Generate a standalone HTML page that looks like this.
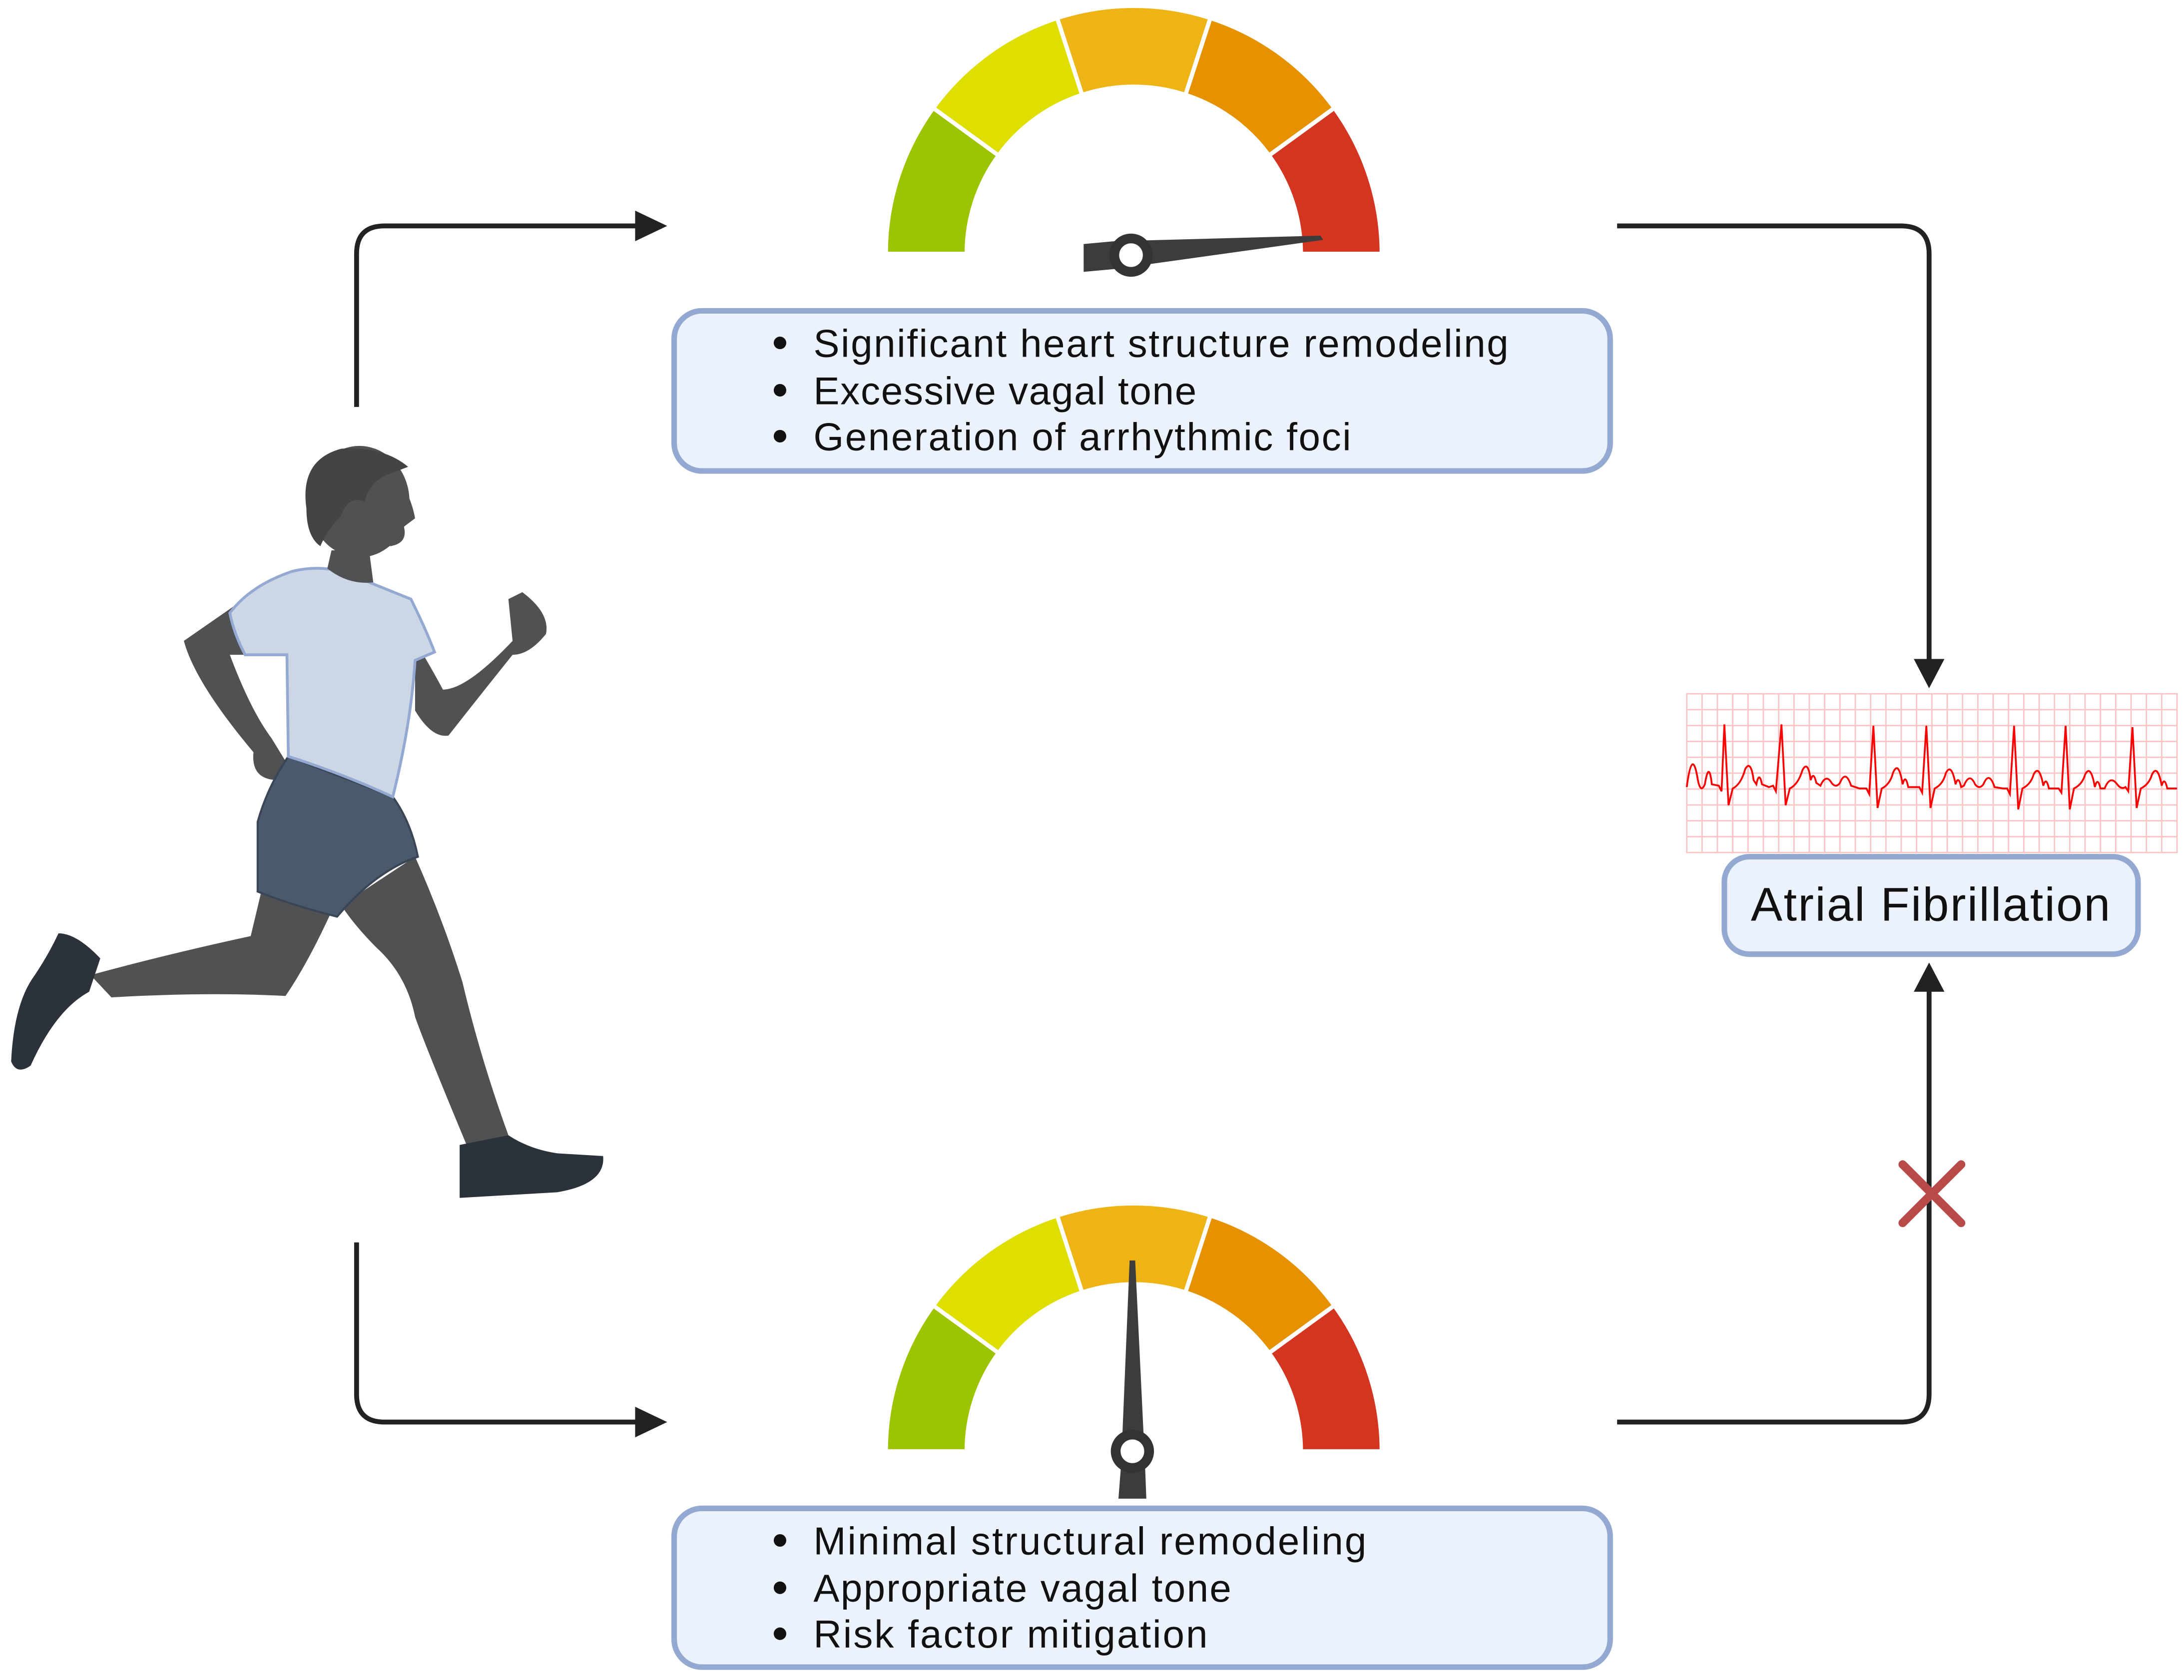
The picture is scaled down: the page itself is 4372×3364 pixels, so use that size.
<!DOCTYPE html>
<html><head><meta charset="utf-8"><style>
html,body{margin:0;padding:0;background:#fff;}
svg{display:block;}
text{font-family:"Liberation Sans",sans-serif;fill:#111;}
</style></head><body>
<svg width="4372" height="3364" viewBox="0 0 1568 1206" xmlns="http://www.w3.org/2000/svg">
<defs>
<g id="gauge">
<path d="M636,182 A178,178 0 0 1 670,77.3 L716.9,111.4 A120,120 0 0 0 694,182 Z" fill="#9cc400" stroke="#fff" stroke-width="3"/>
<path d="M670,77.3 A178,178 0 0 1 759,12.7 L776.9,67.9 A120,120 0 0 0 716.9,111.4 Z" fill="#dede00" stroke="#fff" stroke-width="3"/>
<path d="M759,12.7 A178,178 0 0 1 869,12.7 L851.1,67.9 A120,120 0 0 0 776.9,67.9 Z" fill="#eeb416" stroke="#fff" stroke-width="3"/>
<path d="M869,12.7 A178,178 0 0 1 958,77.3 L911.1,111.4 A120,120 0 0 0 851.1,67.9 Z" fill="#e69100" stroke="#fff" stroke-width="3"/>
<path d="M958,77.3 A178,178 0 0 1 992,182 L934,182 A120,120 0 0 0 911.1,111.4 Z" fill="#d43521" stroke="#fff" stroke-width="3"/>
</g>
</defs>
<rect width="1568" height="1206" fill="#fff"/>

<use href="#gauge"/>
<use href="#gauge" transform="translate(0,860)"/>
<polygon points="778,175 800,173 948,169 950,172 800,193 778,195" fill="#3c3c3c"/>
<circle cx="812" cy="183" r="12" fill="#fff" stroke="#333" stroke-width="7"/>
<polygon points="803,1076 823,1076 822,1050 815,905 811,905 805,1050" fill="#3c3c3c"/>
<circle cx="813" cy="1042" r="12" fill="#fff" stroke="#333" stroke-width="7"/>

<rect x="484" y="223" width="672" height="115" rx="20" fill="#ebf2fb" stroke="#94a9d2" stroke-width="4"/>
<rect x="484" y="1083" width="672" height="114" rx="20" fill="#ebf2fb" stroke="#94a9d2" stroke-width="4"/>
<g font-size="28">
<circle cx="560" cy="246" r="4.5" fill="#111"/><text x="584" y="256" textLength="499">Significant heart structure remodeling</text>
<circle cx="560" cy="280" r="4.5" fill="#111"/><text x="584" y="290" textLength="275">Excessive vagal tone</text>
<circle cx="560" cy="313" r="4.5" fill="#111"/><text x="584" y="323" textLength="386">Generation of arrhythmic foci</text>
<circle cx="560" cy="1106" r="4.5" fill="#111"/><text x="584" y="1116" textLength="397">Minimal structural remodeling</text>
<circle cx="560" cy="1140" r="4.5" fill="#111"/><text x="584" y="1150" textLength="300">Appropriate vagal tone</text>
<circle cx="560" cy="1173" r="4.5" fill="#111"/><text x="584" y="1183" textLength="283">Risk factor mitigation</text>
</g>

<g stroke="#f9c4c4" stroke-width="1">
<rect x="1211" y="498" width="352" height="114" fill="#fff"/>
<path d="M1222,498V612M1233,498V612M1244,498V612M1255,498V612M1266,498V612M1277,498V612M1288,498V612M1299,498V612M1310,498V612M1321,498V612M1332,498V612M1343,498V612M1354,498V612M1365,498V612M1376,498V612M1387,498V612M1398,498V612M1409,498V612M1420,498V612M1431,498V612M1442,498V612M1453,498V612M1464,498V612M1475,498V612M1486,498V612M1497,498V612M1508,498V612M1519,498V612M1530,498V612M1541,498V612M1552,498V612"/>
<path d="M1211,509.4H1563M1211,520.8H1563M1211,532.2H1563M1211,543.6H1563M1211,555H1563M1211,566.4H1563M1211,577.8H1563M1211,589.2H1563M1211,600.6H1563"/>
</g>
<path fill="none" stroke="#f00" stroke-width="1.3" d="M1211,565 Q1215,535 1219,560 Q1221,570 1224,563 Q1227,545 1229,563 L1234,564 L1236,568 L1238,520 L1241,578 L1244,566 Q1250,563 1253,552 Q1257,545 1259,560 L1261,563 Q1263,553 1265,563 L1270,565 L1273,564 L1275,568 L1279,520 L1282,578 L1285,566 Q1291,563 1294,553 Q1298,545 1300,560 Q1302,553 1304,562 L1307,564 Q1311,555 1315,562 Q1318,566 1321,562 Q1325,552 1329,564 L1335,566 L1340,566 L1342,570 L1345,521 L1348,580 L1351,566 Q1357,563 1359,555 Q1363,545 1366,563 Q1368,555 1370,565 L1378,565 L1380,569 L1383,521 L1386,580 L1389,566 Q1395,563 1397,555 Q1401,547 1404,563 Q1406,556 1408,565 L1410,564 Q1414,554 1418,563 Q1421,567 1424,563 Q1428,553 1432,565 L1438,566 L1441,566 L1443,570 L1446,521 L1449,581 L1452,566 Q1458,563 1460,556 Q1464,548 1467,564 Q1469,557 1471,566 L1478,566 L1480,569 L1483,521 L1486,581 L1489,566 Q1495,563 1497,556 Q1501,548 1504,565 Q1506,557 1508,566 L1511,566 Q1515,556 1520,563 Q1523,567 1526,565 L1528,568 L1531,522 L1534,580 L1537,566 Q1543,563 1545,556 Q1549,548 1552,564 Q1554,557 1556,566 L1563,566"/>

<rect x="1238" y="615" width="297" height="70" rx="18" fill="#ebf2fb" stroke="#94a9d2" stroke-width="4"/>
<text x="1386" y="661" font-size="34" text-anchor="middle" textLength="258">Atrial Fibrillation</text>

<g fill="none" stroke="#222" stroke-width="3.5">
<path d="M256,292 V182 Q256,162 276,162 H460"/>
<path d="M256,892 V1001 Q256,1021 276,1021 H460"/>
<path d="M1161,162 H1365 Q1385,162 1385,182 V478"/>
<path d="M1161,1021 H1365 Q1385,1021 1385,1001 V710"/>
</g>
<g fill="#222">
<polygon points="456,151 479,162 456,173"/>
<polygon points="456,1010 479,1021 456,1032"/>
<polygon points="1374,473 1385,494 1396,473"/>
<polygon points="1374,712 1385,691 1396,712"/>
</g>
<path d="M1366,836 L1408,878 M1408,836 L1366,878" stroke="#b94a4a" stroke-width="6" stroke-linecap="round"/>

<g>
<path d="M190,630 L240,650 Q222,690 205,715 Q150,712 80,716 L65,700 Q120,685 180,672 Z" fill="#505153"/>
<path d="M42,670 Q55,670 72,688 L64,712 Q40,725 22,765 Q12,772 8,762 Q10,720 25,700 Q35,685 42,670 Z" fill="#2c323a"/>
<path d="M245,650 L298,615 Q318,660 332,705 Q345,760 365,815 L335,822 Q305,750 298,730 Q292,700 270,680 Q255,665 245,650 Z" fill="#505153"/>
<path d="M330,822 L365,815 Q380,825 400,828 L433,830 Q435,850 400,856 L330,860 Z" fill="#2c323a"/>
<path d="M168,435 L132,460 Q140,490 182,540 Q180,560 200,560 L206,548 L195,530 Q180,510 165,470 L178,470 Z" fill="#505153"/>
<path d="M298,460 Q310,480 318,495 Q335,495 368,460 L365,430 L375,425 Q395,440 392,455 Q380,470 368,470 Q340,505 322,528 Q310,530 298,510 Z" fill="#505153"/>
<path d="M207,543 L282,572 Q295,590 300,615 Q270,625 242,658 Q210,650 185,640 L185,590 Q192,565 207,543 Z" fill="#4a5a6c" stroke="#3a4656" stroke-width="1.5"/>
<path d="M165,440 Q180,420 210,410 Q235,404 258,415 Q270,420 295,430 Q305,450 312,468 L298,474 Q295,520 282,572 Q245,555 207,543 L206,470 Q190,470 176,470 Q168,455 165,440 Z" fill="#cdd6e4" stroke="#94a9d2" stroke-width="2"/>
<path d="M238,395 L265,395 L268,418 Q250,420 235,408 Z" fill="#505153"/>
<ellipse cx="258" cy="360" rx="36" ry="40" fill="#505153"/>
<path d="M220,365 Q215,330 245,322 Q275,320 293,335 L280,340 Q265,345 262,360 Q250,355 245,370 Q235,380 230,392 Q220,385 220,365 Z" fill="#444"/>
<path d="M288,345 Q296,360 298,372 L290,378 Q293,390 280,392 Z" fill="#505153"/>
</g>
</svg>
</body></html>
